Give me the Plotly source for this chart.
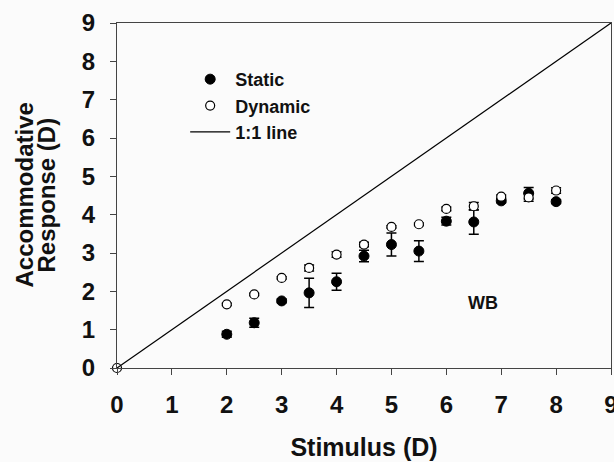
import plotly.graph_objects as go

stimulus = [2, 2.5, 3, 3.5, 4, 4.5, 5, 5.5, 6, 6.5, 7, 7.5, 8]
static_resp = [0.88, 1.18, 1.75, 1.96, 2.25, 2.92, 3.22, 3.05, 3.83, 3.81, 4.36, 4.56, 4.34]
static_err = [0.08, 0.12, 0.05, 0.38, 0.22, 0.15, 0.30, 0.27, 0.10, 0.32, 0.05, 0.15, 0.05]
dyn_stimulus = [0, 2, 2.5, 3, 3.5, 4, 4.5, 5, 5.5, 6, 6.5, 7, 7.5, 8]
dynamic_resp = [0, 1.66, 1.92, 2.35, 2.61, 2.96, 3.22, 3.68, 3.75, 4.15, 4.22, 4.47, 4.45, 4.63]
dynamic_err = [0, 0.03, 0.03, 0.03, 0.08, 0.07, 0.06, 0.03, 0.03, 0.05, 0.10, 0.04, 0.10, 0.07]
line_x = [0, 9]
line_y = [0, 9]
x_ticks = [0, 1, 2, 3, 4, 5, 6, 7, 8, 9]
y_ticks = [0, 1, 2, 3, 4, 5, 6, 7, 8, 9]
y_title_lines = ["Accommodative", "Response (D)"]

FONT = "Liberation Sans"
TXT = "#111"

fig = go.Figure()
fig.add_trace(go.Scatter(
    x=stimulus, y=static_resp, mode="markers", name="Static",
    marker=dict(symbol="circle", size=10, color="black", line=dict(color="black", width=1)),
    error_y=dict(type="data", array=static_err, visible=True, color="black", thickness=1.5, width=5),
))
fig.add_trace(go.Scatter(
    x=dyn_stimulus, y=dynamic_resp, mode="markers", name="Dynamic",
    marker=dict(symbol="circle", size=9, color="white", line=dict(color="black", width=1.2)),
    error_y=dict(type="data", array=dynamic_err, visible=True, color="black", thickness=1.5, width=5),
))
fig.add_trace(go.Scatter(
    x=line_x, y=line_y, mode="lines", name="1:1 line",
    line=dict(color="black", width=1.2),
))

fig.add_annotation(x=6.67, y=1.7, text="WB", showarrow=False,
                   font=dict(family=FONT, size=18, color=TXT, weight="bold"))

# two-line y axis title with tight line spacing
for i, line in enumerate(y_title_lines):
    fig.add_annotation(
        xref="paper", yref="paper", x=(24 + 22 * i - 117) / 494, y=0.5,
        text=line, textangle=-90, showarrow=False, xanchor="center", yanchor="middle",
        font=dict(family=FONT, size=24, color=TXT, weight="bold"),
    )

axis_common = dict(
    range=[0, 9], showgrid=False, zeroline=False, showline=True, linecolor="#444",
    linewidth=1.2, mirror=True, ticks="outside", ticklen=6, tickcolor="#444",
    tickfont=dict(family=FONT, size=24, color=TXT, weight="bold"),
    automargin=False, ticklabeloverflow="allow",
)
fig.update_xaxes(**axis_common, tickvals=x_ticks, ticklabelstandoff=9,
                 title=dict(text="Stimulus (D)", font=dict(family=FONT, size=25, color=TXT, weight="bold"), standoff=21))
fig.update_yaxes(**axis_common, tickvals=y_ticks, ticklabelstandoff=10)

fig.update_layout(
    width=614, height=462,
    margin=dict(l=117, r=3, t=23, b=94),
    paper_bgcolor="#fbfbfb", plot_bgcolor="#fbfbfb",
    legend=dict(x=0.138, y=0.89, xanchor="left", yanchor="top", bgcolor="rgba(0,0,0,0)",
                font=dict(family=FONT, size=18, color=TXT, weight="bold"), tracegroupgap=0, itemwidth=40),
    font=dict(family=FONT),
    showlegend=True,
)
fig.update_traces(cliponaxis=False)

fig.write_html("out.html", config={"displayModeBar": False},
               post_script="document.body.style.margin='0';document.body.style.overflow='hidden';")
